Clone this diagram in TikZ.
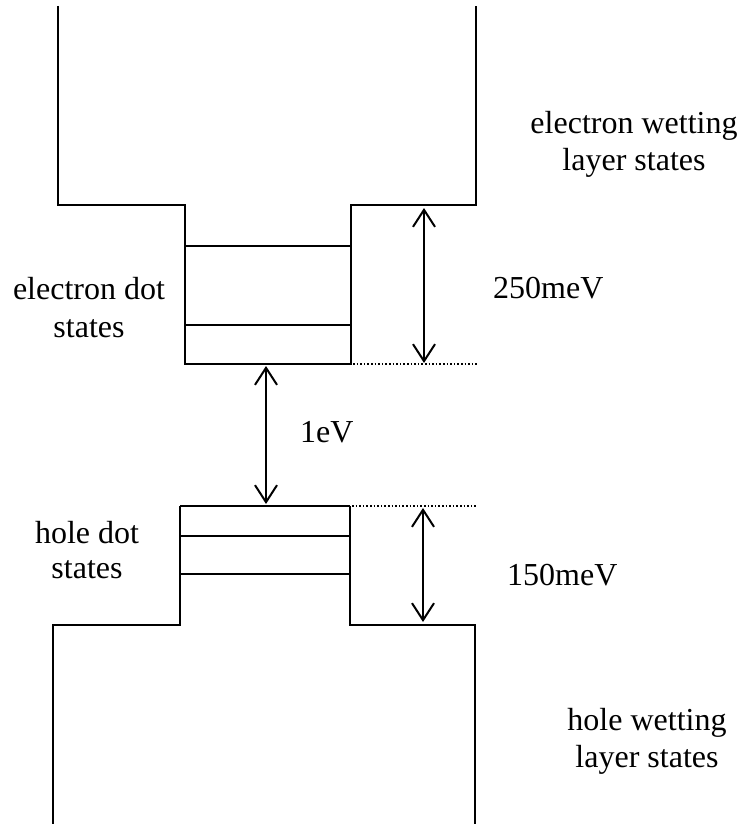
\documentclass[tikz,border=0pt]{standalone}
\usepackage{fontspec}
\setmainfont{Liberation Serif}
\usetikzlibrary{arrows.meta}
\begin{document}
\begin{tikzpicture}[x=1pt,y=-1pt,
  band/.style={line width=2pt,line join=miter},
  level/.style={line width=2.6pt},
  guide/.style={line width=1.6pt,dotted},
  gap/.style={line width=2pt,{Straight Barb[length=17pt,width=22pt,line width=2pt]}-{Straight Barb[length=17pt,width=22pt,line width=2pt]}},
  lbl/.style={inner sep=0pt,anchor=base,font=\fontsize{32}{37}\selectfont}]
\useasboundingbox (0,0) rectangle (741,824);
% conduction band (electron)
\draw[band] (58,6) -- (58,205) -- (185,205) -- (185,364) -- (351,364) -- (351,205) -- (476,205) -- (476,6);
\draw[level] (185,246) -- (351,246);
\draw[level] (185,325) -- (351,325);
\draw[guide] (353,364) -- (477,364);
% valence band (hole)
\draw[band] (53,824) -- (53,625) -- (180,625) -- (180,506);
\draw[band] (350,506) -- (350,625) -- (475,625) -- (475,824);
\draw[level] (180,506) -- (350,506);
\draw[level] (180,536) -- (350,536);
\draw[level] (180,574) -- (350,574);
\draw[guide] (352,506) -- (477,506);
% arrows
\coordinate (eTop) at (424,208);
\coordinate (eBot) at (424,363);
\coordinate (gTop) at (266,366);
\coordinate (gBot) at (266,504);
\coordinate (hTop) at (423,508);
\coordinate (hBot) at (423,622);
\draw[gap] (eTop) -- (eBot);
\draw[gap] (gTop) -- (gBot);
\draw[gap] (hTop) -- (hBot);
% labels
\node[lbl] (ew1) at (634,133) {electron wetting};
\node[lbl] (ew2) at (634,170) {layer states};
\node[lbl] (ed1) at (89,299) {electron dot};
\node[lbl] (ed2) at (89,337) {states};
\node[lbl,anchor=base west] (e250) at (493,298) {250meV};
\node[lbl,anchor=base west] (g1) at (300,442) {1eV};
\node[lbl] (hd1) at (87,543) {hole dot};
\node[lbl] (hd2) at (87,578) {states};
\node[lbl,anchor=base west] (h150) at (507,585) {150meV};
\node[lbl] (hw1) at (647,730) {hole wetting};
\node[lbl] (hw2) at (647,767) {layer states};
\end{tikzpicture}
\end{document}
